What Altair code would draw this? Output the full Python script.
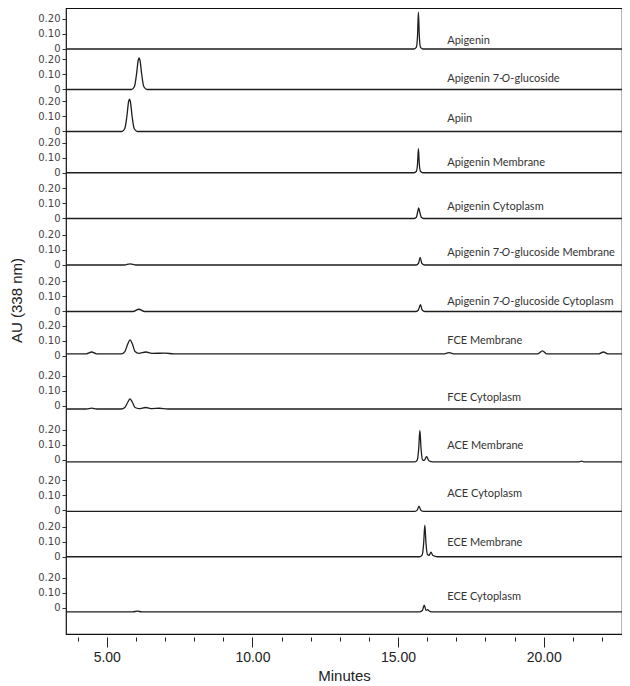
import altair as alt
import pandas as pd

# ---------------- data ----------------
names = [
    "Apigenin", "Apigenin 7-O-glucoside", "Apiin", "Apigenin Membrane",
    "Apigenin Cytoplasm", "Apigenin 7-O-glucoside Membrane",
    "Apigenin 7-O-glucoside Cytoplasm", "FCE Membrane", "FCE Cytoplasm",
    "ACE Membrane", "ACE Cytoplasm", "ECE Membrane", "ECE Cytoplasm",
]
label_pre = ["Apigenin", "Apigenin 7-", "Apiin", "Apigenin Membrane",
             "Apigenin Cytoplasm", "Apigenin 7-", "Apigenin 7-",
             "FCE Membrane", "FCE Cytoplasm", "ACE Membrane",
             "ACE Cytoplasm", "ECE Membrane", "ECE Cytoplasm"]
label_ital = ["", "O", "", "", "", "O", "O", "", "", "", "", "", ""]
label_post = ["", "-glucoside", "", "", "", "-glucoside Membrane",
              "-glucoside Cytoplasm", "", "", "", "", "", ""]

# stacking offset of each trace's zero (AU), its baseline drift, label height
panel_zero = [3.90, 3.63, 3.35, 3.075, 2.77, 2.46, 2.15, 1.855, 1.52,
              1.16, 0.825, 0.515, 0.175]
baseline = [0, 0, 0, 0, 0, 0, 0, 0.013, -0.02, -0.013, -0.007, 0, -0.027]
label_rise = [0.05, 0.073, 0.08, 0.063, 0.075, 0.078, 0.065, 0.10, 0.055,
              0.095, 0.107, 0.093, 0.073]
label_time = 16.69

trace_t = [
    [3.6, 15.55, 15.63, 15.67, 15.70, 15.73, 15.77, 15.85, 22.9],
    [3.6, 5.85, 5.95, 6.02, 6.08, 6.11, 6.14, 6.20, 6.27, 6.38, 22.9],
    [3.6, 5.52, 5.62, 5.69, 5.75, 5.78, 5.81, 5.87, 5.94, 6.05, 22.9],
    [3.6, 15.55, 15.63, 15.67, 15.70, 15.73, 15.77, 15.85, 22.9],
    [3.6, 15.55, 15.63, 15.67, 15.71, 15.75, 15.80, 15.88, 22.9],
    [3.6, 5.6, 5.8, 6.0, 15.62, 15.70, 15.76, 15.82, 15.92, 22.9],
    [3.6, 5.9, 6.1, 6.3, 15.62, 15.70, 15.77, 15.83, 15.92, 22.9],
    [3.6, 4.3, 4.48, 4.65, 5.5, 5.62, 5.72, 5.80, 5.88, 5.97, 6.1, 6.34,
     6.55, 7.0, 7.3, 16.6, 16.75, 16.9, 19.8, 19.96, 20.1, 21.9, 22.05,
     22.2, 22.9],
    [3.6, 4.3, 4.48, 4.65, 5.5, 5.62, 5.72, 5.80, 5.88, 5.97, 6.1, 6.34,
     6.55, 6.8, 7.1, 22.9],
    [3.6, 15.58, 15.66, 15.71, 15.75, 15.79, 15.84, 15.90, 15.98, 16.06,
     16.2, 21.2, 21.3, 21.4, 22.9],
    [3.6, 15.58, 15.66, 15.72, 15.78, 15.86, 22.9],
    [3.6, 15.75, 15.83, 15.88, 15.92, 15.96, 16.01, 16.07, 16.13, 16.2,
     16.35, 22.9],
    [3.6, 5.9, 6.05, 6.2, 15.75, 15.84, 15.90, 15.96, 16.02, 16.07, 16.15,
     22.9],
]
trace_v = [
    [0, 0, 0.012, 0.09, 0.245, 0.09, 0.012, 0, 0],
    [0, 0, 0.02, 0.10, 0.195, 0.21, 0.195, 0.10, 0.02, 0, 0],
    [0, 0, 0.02, 0.10, 0.20, 0.215, 0.20, 0.10, 0.02, 0, 0],
    [0, 0, 0.01, 0.06, 0.16, 0.06, 0.01, 0, 0],
    [0, 0, 0.008, 0.04, 0.07, 0.04, 0.008, 0, 0],
    [0, 0, 0.008, 0, 0, 0.01, 0.05, 0.01, 0, 0],
    [0, 0, 0.015, 0, 0, 0.01, 0.045, 0.01, 0, 0],
    [0, 0, 0.012, 0, 0, 0.015, 0.065, 0.093, 0.065, 0.015, 0.003, 0.012,
     0.003, 0.004, 0, 0, 0.008, 0, 0, 0.02, 0, 0, 0.012, 0, 0],
    [0, 0, 0.006, 0, 0, 0.01, 0.045, 0.067, 0.045, 0.01, 0.003, 0.01,
     0.003, 0.005, 0, 0],
    [0, 0, 0.012, 0.09, 0.21, 0.09, 0.015, 0.01, 0.035, 0.008, 0, 0,
     0.006, 0, 0],
    [0, 0, 0.008, 0.035, 0.008, 0, 0],
    [0, 0, 0.012, 0.09, 0.21, 0.09, 0.015, 0.01, 0.03, 0.008, 0, 0],
    [0, 0, 0.004, 0, 0, 0.01, 0.045, 0.01, 0.015, 0.005, 0, 0],
]

x_ticks = list(range(4, 23))
y_tick_steps = [0, 0.1, 0.2]
y_tick_text = ["0", "0.10", "0.20"]

# ---------------- tables ----------------
rows = []
for i, name in enumerate(names):
    for t, v in zip(trace_t[i], trace_v[i]):
        rows.append({"trace": name, "order": i, "t": t,
                     "y": panel_zero[i] + baseline[i] + v})
df = pd.DataFrame(rows)

lab = pd.DataFrame({
    "t": [label_time] * len(names),
    "y": [z + r for z, r in zip(panel_zero, label_rise)],
    "pre": label_pre, "ital": label_ital, "post": label_post,
})

y_vals = [z + s for z in panel_zero for s in y_tick_steps]
y_label_expr = ("[" + ",".join("'%s'" % s for s in y_tick_text) + "][indexof(["
                + ",".join(repr(v) for v in y_vals) + "], datum.value) % 3]")

FONT_AX = "Liberation Sans"
FONT_LBL = "Lato"

x_enc = alt.X(
    "t:Q", title="Minutes",
    scale=alt.Scale(domain=[3.6, 22.69], nice=False, zero=False),
    axis=alt.Axis(
        values=x_ticks,
        labelExpr="datum.value % 5 === 0 ? format(datum.value, '.2f') : ''",
        tickSize={"condition": {"test": "datum.value % 5 === 0", "value": 10},
                  "value": 4},
        tickColor="#222", tickWidth=1, domain=False, grid=False, offset=3,
        labelFont=FONT_AX, labelFontSize=14, labelColor="#222",
        labelPadding=3, labelFlush=False, labelOverlap=False,
        titleFont=FONT_AX, titleFontSize=15, titleFontWeight="normal",
        titleColor="#222", titlePadding=4,
    ),
)
y_enc = alt.Y(
    "y:Q", title="AU (338 nm)",
    scale=alt.Scale(domain=[0, 4.1733], nice=False, zero=False),
    axis=alt.Axis(
        values=y_vals, labelExpr=y_label_expr,
        tickSize=4, tickColor="#333", domain=False, grid=False,
        labelFont="DejaVu Sans", labelFontSize=10, labelColor="#444",
        labelPadding=2, labelOverlap=False, labelFlush=False,
        titleFont=FONT_AX, titleFontSize=15, titleFontWeight="normal",
        titleColor="#222", titleX=-42, titleY=292,
    ),
)

lines = alt.Chart(df).mark_line(
    interpolate="monotone", color="#1e1e1e", strokeWidth=1.3
).encode(x=x_enc, y=y_enc, detail="trace:N")

base_text = alt.Chart(lab).encode(x=x_enc, y=y_enc)
txt_style = dict(align="left", baseline="middle", font=FONT_LBL,
                 fontSize=11, color="#333")
W_PRE = 54.5
W_O = 8.6
t_pre = base_text.mark_text(**txt_style).encode(text="pre:N")
t_ital = base_text.transform_filter("datum.ital != ''").mark_text(
    fontStyle="italic", dx=W_PRE, **txt_style).encode(text="ital:N")
t_post = base_text.transform_filter("datum.post != ''").mark_text(
    dx=W_PRE + W_O, **txt_style).encode(text="post:N")

chart = alt.layer(lines, t_pre, t_ital, t_post).properties(
    width=556, height=626,
    autosize=alt.AutoSizeParams(type="none"),
    padding={"left": 58, "top": 0, "right": 0, "bottom": 52},
).configure_view(stroke="#111", strokeWidth=1.2)

chart.save("out.html", embed_options={"renderer": "svg", "actions": False})
